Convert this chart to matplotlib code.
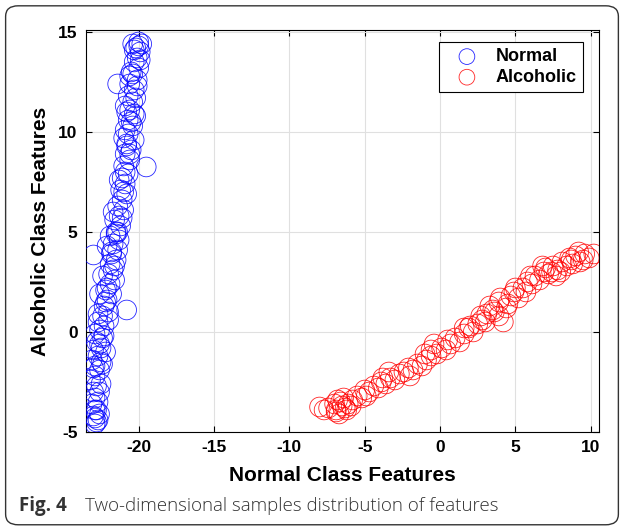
import matplotlib
matplotlib.use("Agg")
import matplotlib.pyplot as plt
from matplotlib.patches import FancyBboxPatch

# Normal class samples (x, y)
normal_x = [-22.9, -22.7, -23.0, -22.8, -22.6, -23.1, -22.9, -22.7, -23.0, -22.8,
            -23.2, -22.9, -22.6, -22.9, -22.4, -23.1, -22.7, -22.2, -22.5, -22.8,
            -22.4, -22.9, -22.6, -22.3, -22.7, -22.4, -22.0, -20.8, -22.3, -22.1,
            -21.8, -22.2, -21.9, -21.6, -22.0, -21.7, -21.9, -21.5, -23.0, -21.8,
            -21.4, -21.7, -21.3, -21.9, -21.5, -21.2, -21.6, -21.3, -21.0, -21.4,
            -21.1, -20.8, -21.2, -20.9, -21.1, -20.7, -19.5, -21.0, -20.6, -20.9,
            -20.5, -20.8, -20.3, -20.7, -20.9, -20.4, -20.7, -20.2, -20.6, -20.9,
            -20.4, -20.7, -21.4, -20.3, -20.6, -20.1, -20.4, -20.0, -20.3, -20.1,
            -19.9, -20.2, -19.8, -20.0, -20.3, -20.5, -20.8, -21.0, -21.3, -21.7,
            -22.1, -22.4, -22.6, -22.7, -23.0, -22.5, -22.6, -22.9,
            -22.8, -23.0, -22.6, -22.3, -22.0, -22.2, -21.6, -21.8, -21.1, -21.4,
            -21.0, -20.6, -20.8, -20.5, -20.2, -20.1, -19.9, -20.0, -20.4, -20.6,
            -22.9, -22.5, -22.1, -21.5, -20.9, -20.3]
normal_y = [-4.6, -4.4, -4.2, -3.9, -4.1, -3.6, -3.3, -3.5, -3.0, -2.7,
            -2.4, -2.2, -1.9, -1.7, -1.6, -1.4, -1.2, -1.0, -0.8, -0.5,
            -0.3, -0.1, 0.1, 0.3, 0.5, 0.8, 1.0, 1.1, 1.3, 1.6,
            1.9, 2.1, 2.4, 2.6, 2.9, 3.1, 3.4, 3.6, 3.85, 3.9,
            4.1, 4.4, 4.6, 4.8, 5.0, 5.3, 5.6, 5.8, 6.1, 6.3,
            6.6, 6.9, 7.1, 7.4, 7.7, 7.9, 8.25, 8.3, 8.6, 8.9,
            9.1, 9.4, 9.6, 9.9, 10.1, 10.3, 10.6, 10.8, 11.1, 11.3,
            11.5, 11.8, 12.4, 12.1, 12.4, 12.6, 12.9, 13.2, 13.5, 13.7,
            14.0, 14.2, 14.4, 14.5, 14.1, 13.0, 11.0, 9.7, 7.6, 6.0,
            4.3, 2.8, 1.9, 0.9, -0.9, -2.6, -3.0, -3.9,
            -4.5, -1.8, -0.6, -0.2, 0.6, 1.5, 3.3, 4.0, 5.7, 5.0,
            7.0, 8.9, 9.3, 10.5, 11.7, 12.3, 13.6, 14.3, 14.4, 12.8,
            -4.3, -1.5, 2.2, 4.9, 8.0, 10.9]

# Alcoholic class samples
alco_x = [-8.0, -7.4, -6.9, -6.6, -7.0, -6.3, -6.7, -6.1, -5.8, -6.4,
          -5.5, -5.2, -5.0, -4.7, -4.4, -4.1, -3.9, -3.6, -3.3, -3.0,
          -2.7, -2.4, -2.1, -1.8, -1.5, -1.2, -0.9, -0.6, -0.4, -0.2,
          0.1, 0.4, 0.7, 1.0, 1.3, 1.6, 1.9, 2.2, 2.5, 2.8,
          3.1, 3.3, 3.6, 3.9, 4.2, 4.4, 4.7, 4.9, 5.2, 5.5,
          5.8, 6.1, 6.3, 6.6, 6.9, 7.2, 7.5, 7.8, 8.1, 8.4,
          8.7, 9.0, 9.3, 9.6, 9.9, 10.2, -5.9, -4.9, -3.4, -2.0,
          -1.0, 0.5, 2.0, 3.0, 4.0, 5.0, 6.0, 7.0, 8.0, 9.2,
          -7.7, -6.5, -6.8, -3.8, -0.6, 1.6, 2.7, 4.5, 5.7, 7.4, 8.8,
          -6.9, -6.2, 3.5, 3.9, 6.8, 7.7, 8.6, 9.5]
alco_y = [-3.75, -3.8, -3.9, -3.5, -3.6, -3.8, -4.1, -3.6, -3.4, -3.3,
          -3.2, -3.3, -2.9, -3.0, -2.7, -2.8, -2.5, -2.6, -2.3, -2.4,
          -2.1, -2.0, -1.8, -1.9, -1.6, -1.7, -1.4, -1.2, -0.6, -1.1,
          -0.8, -0.9, -0.6, -0.3, -0.5, -0.1, 0.2, 0.0, 0.4, 0.6,
          0.9, 1.3, 1.0, 1.5, 0.5, 1.2, 1.8, 2.0, 1.7, 2.2,
          2.5, 2.4, 2.8, 2.6, 3.0, 2.9, 3.3, 3.1, 3.5, 3.3,
          3.6, 3.8, 3.5, 3.9, 3.7, 3.9, -3.7, -3.2, -2.0, -2.2,
          -1.1, -0.4, 0.3, 0.5, 1.7, 2.2, 2.8, 3.2, 3.0, 4.0,
          -3.9, -3.7, -3.4, -2.3, -0.9, 0.2, 0.8, 1.4, 2.0, 3.0, 3.4,
          -4.0, -3.9, 1.1, 0.8, 3.3, 2.8, 3.7, 3.6]

xticks = [-20, -15, -10, -5, 0, 5, 10]
yticks = [-5, 0, 5, 10, 15]

plt.rcParams['font.family'] = ['Liberation Sans', 'DejaVu Sans']
plt.rcParams['axes.unicode_minus'] = False

fig = plt.figure(figsize=(6.24, 5.29), dpi=100)
ax = fig.add_axes([0.1378, 0.1834, 0.8222, 0.76])

ax.scatter(normal_x, normal_y, s=200, facecolors='none', edgecolors='#0000ff',
           linewidths=0.6, alpha=0.85, label='Normal', zorder=3)
ax.scatter(alco_x, alco_y, s=200, facecolors='none', edgecolors='#ff0000',
           linewidths=0.6, alpha=0.85, label='Alcoholic', zorder=3)

ax.set_xlim(-23.5, 10.55)
ax.set_ylim(-5, 15.1)
ax.set_xticks(xticks)
ax.set_yticks(yticks)
ax.grid(True, color='#e0e0e0', linewidth=0.8)
ax.set_axisbelow(True)
ax.tick_params(direction='in', top=True, right=True, length=4, width=0.8,
               labelsize=12.5, pad=6)
for lab in ax.get_xticklabels() + ax.get_yticklabels():
    lab.set_fontweight('bold')
for sp in ax.spines.values():
    sp.set_linewidth(0.8)

ax.set_xlabel('Normal Class Features', fontsize=15, fontweight='bold', labelpad=8)
ax.set_ylabel('Alcoholic Class Features', fontsize=15, fontweight='bold', labelpad=6)

leg = ax.legend(loc='upper right', bbox_to_anchor=(0.969, 0.970), fancybox=False,
                edgecolor='black', framealpha=1, prop={'weight': 'bold', 'size': 13},
                handlelength=2.4, handletextpad=0.4, borderpad=0.35, labelspacing=0.2,
                markerscale=0.8, borderaxespad=0)
leg.get_frame().set_linewidth(0.8)

# journal frame and caption
frame = FancyBboxPatch((0.009, 0.008), 0.982, 0.981, boxstyle='round,pad=0,rounding_size=0.02',
                       transform=fig.transFigure, fill=False, edgecolor='#333333',
                       linewidth=1.0)
fig.patches.append(frame)
fig.text(0.030, 0.044, 'Fig. 4', fontsize=13.5, fontweight='bold', color='#333333',
         family=['Open Sans', 'DejaVu Sans'], va='center')
fig.text(0.137, 0.044, 'Two-dimensional samples distribution of features', fontsize=13.5,
         fontweight='light', color='#333333', family=['Open Sans', 'DejaVu Sans'],
         va='center')

fig.savefig('out.png', dpi=100)
